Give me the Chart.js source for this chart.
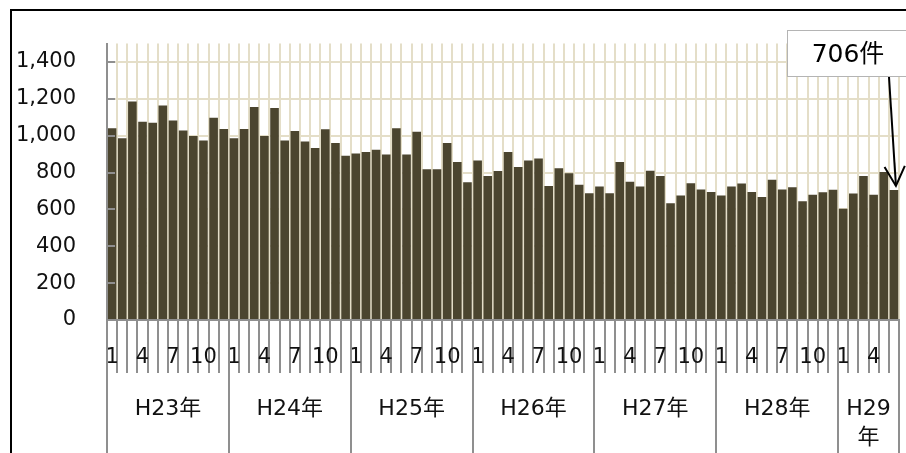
<!DOCTYPE html>
<html>
<head>
<meta charset="utf-8">
<script src="https://cdn.jsdelivr.net/npm/chart.js@4.4.1/dist/chart.umd.min.js"></script>
<style>
  html, body { margin: 0; padding: 0; background: #ffffff; }
  #wrap { width: 906px; height: 453px; position: relative; }
</style>
</head>
<body>
<div id="wrap"><canvas id="c" width="906" height="453"></canvas></div>
<script>
// Monthly case counts, one array per fiscal year (Jan..Dec)
const yearNames = ['H23年', 'H24年', 'H25年', 'H26年', 'H27年', 'H28年', 'H29年'];
const h23 = [1040, 987, 1186, 1076, 1070, 1164, 1083, 1028, 999, 974, 1097, 1036];
const h24 = [987, 1036, 1156, 999, 1150, 974, 1026, 969, 933, 1035, 960, 892];
const h25 = [903, 912, 924, 898, 1040, 898, 1022, 818, 818, 960, 857, 748];
const h26 = [866, 782, 809, 912, 830, 866, 876, 727, 823, 796, 734, 688];
const h27 = [724, 688, 858, 750, 724, 810, 782, 633, 676, 742, 708, 694];
const h28 = [676, 724, 741, 695, 668, 761, 708, 721, 645, 680, 693, 707];
const h29 = [604, 686, 782, 680, 803, 706];
const monthTickLabels = ['1', '', '', '4', '', '', '7', '', '', '10', '', ''];
const calloutUnit = '件';

const yearSeries = [h23, h24, h25, h26, h27, h28, h29];
const counts = yearSeries.flat();
const monthLabels = yearSeries.flatMap(arr => arr.map((_, i) => monthTickLabels[i]));

const BAR = '#4b452f';
const CREAM = '#e4dec8';
const AXIS = '#8f8f8f';
const TEXT = '#111111';
const FONT = '"DejaVu Sans", "Noto Sans CJK JP", sans-serif';

// Frame lines, year separators, year names, inner y ticks and the callout
const decorations = {
  id: 'decorations',
  afterDatasetsDraw(chart) {
    const { ctx, scales: { y }, chartArea } = chart;
    ctx.save();
    ctx.strokeStyle = AXIS;
    ctx.lineWidth = 2;
    y.ticks.forEach(t => {
      const py = Math.round(y.getPixelForValue(t.value));
      ctx.beginPath();
      ctx.moveTo(chartArea.left, py);
      ctx.lineTo(chartArea.left + 8, py);
      ctx.stroke();
    });
    ctx.restore();
  },
  afterDraw(chart) {
    const { ctx, scales: { x, y }, chartArea } = chart;
    const n = counts.length;
    const step = (chartArea.right - chartArea.left) / n;
    const bottom = chart.height;
    ctx.save();

    // outer frame (top and left edges)
    ctx.strokeStyle = '#000000';
    ctx.lineWidth = 2;
    ctx.beginPath();
    ctx.moveTo(11, chart.height);
    ctx.lineTo(11, 10);
    ctx.lineTo(chart.width, 10);
    ctx.stroke();

    // year separators and year names below the month ticks
    ctx.strokeStyle = AXIS;
    ctx.lineWidth = 2;
    ctx.fillStyle = TEXT;
    ctx.font = '22px ' + FONT;
    ctx.textAlign = 'center';
    ctx.textBaseline = 'middle';
    let start = 0;
    yearSeries.forEach((arr, k) => {
      const left = x.getPixelForValue(start) - step / 2;
      const right = x.getPixelForValue(start + arr.length - 1) + step / 2;
      [left, right].forEach(px => {
        ctx.beginPath();
        ctx.moveTo(Math.round(px), chartArea.bottom);
        ctx.lineTo(Math.round(px), bottom);
        ctx.stroke();
      });
      const cx = (left + right) / 2;
      const name = yearNames[k];
      if (ctx.measureText(name).width > right - left - 8) {
        ctx.fillText(name.slice(0, -1), cx, 409);
        ctx.fillText(name.slice(-1), cx, 438);
      } else {
        ctx.fillText(name, cx, 409);
      }
      start += arr.length;
    });

    // callout for the latest month
    const last = n - 1;
    const tipX = x.getPixelForValue(last) + 2;
    const tipY = y.getPixelForValue(counts[last]) - 4;
    const box = { l: 787.5, t: 30.5, r: 912, b: 76.5 };
    ctx.fillStyle = '#ffffff';
    ctx.fillRect(box.l, box.t, box.r - box.l, box.b - box.t);
    ctx.strokeStyle = '#b4b4b4';
    ctx.lineWidth = 1;
    ctx.strokeRect(box.l, box.t, box.r - box.l, box.b - box.t);
    ctx.fillStyle = '#000000';
    ctx.font = '25px ' + FONT;
    ctx.textAlign = 'center';
    ctx.fillText(counts[last] + calloutUnit, 848, 55);

    const sx = 889, sy = 77;
    ctx.strokeStyle = '#000000';
    ctx.lineWidth = 2;
    ctx.beginPath();
    ctx.moveTo(sx, sy);
    ctx.lineTo(tipX, tipY);
    ctx.stroke();
    const ang = Math.atan2(tipY - sy, tipX - sx);
    const head = 22, spread = 0.48;
    ctx.beginPath();
    ctx.moveTo(tipX - head * Math.cos(ang - spread), tipY - head * Math.sin(ang - spread));
    ctx.lineTo(tipX, tipY);
    ctx.lineTo(tipX - head * Math.cos(ang + spread), tipY - head * Math.sin(ang + spread));
    ctx.stroke();
    ctx.restore();
  }
};

new Chart(document.getElementById('c'), {
  type: 'bar',
  data: {
    labels: monthLabels,
    datasets: [{
      data: counts,
      backgroundColor: BAR,
      borderWidth: 0,
      barPercentage: 0.85,
      categoryPercentage: 1.0
    }]
  },
  options: {
    responsive: false,
    animation: false,
    events: [],
    layout: { padding: { left: 0, top: 40, right: 7, bottom: 0 } },
    plugins: { legend: { display: false }, tooltip: { enabled: false } },
    scales: {
      x: {
        offset: true,
        grid: {
          offset: true,
          color: CREAM,
          lineWidth: 2,
          tickColor: AXIS,
          tickWidth: 2,
          tickLength: 53
        },
        border: { color: AXIS, width: 2, z: 1 },
        ticks: {
          autoSkip: false,
          maxRotation: 0,
          minRotation: 0,
          padding: -28,
          color: TEXT,
          font: { family: FONT, size: 21 }
        },
        afterFit(scale) { scale.height = 133; }
      },
      y: {
        min: 0,
        max: 1500,
        grid: { color: CREAM, lineWidth: 2, drawTicks: false },
        border: { color: AXIS, width: 2, z: 1 },
        ticks: {
          stepSize: 200,
          includeBounds: false,
          padding: 31,
          color: TEXT,
          font: { family: FONT, size: 21 },
          callback: v => v.toLocaleString('en-US')
        },
        afterFit(scale) { scale.width = 107; }
      }
    }
  },
  plugins: [decorations]
});
</script>
</body>
</html>
